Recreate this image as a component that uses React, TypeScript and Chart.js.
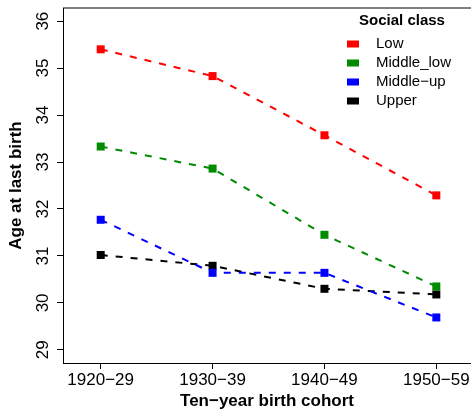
import React, { useEffect, useRef } from 'react';
import { Chart, registerables } from 'chart.js';

Chart.register(...registerables);

// ---- data ----
const cohorts = ['1920−29', '1930−39', '1940−49', '1950−59'];
const classNames = ['Low', 'Middle_low', 'Middle−up', 'Upper'];
const low = [35.4, 34.83, 33.57, 32.29];
const middleLow = [33.33, 32.86, 31.45, 30.35];
const middleUp = [31.77, 30.64, 30.64, 29.69];
const upper = [31.02, 30.79, 30.3, 30.18];
const yTicks = [29, 30, 31, 32, 33, 34, 35, 36];
const xTitle = 'Ten−year birth cohort';
const yTitle = 'Age at last birth';
const legendTitle = 'Social class';

const colors = ['#FF0000', '#008B00', '#0000FF', '#000000'];
const FONT = '"Liberation Sans", Arial, Helvetica, sans-serif';

const legendPlugin = {
  id: 'rLegend',
  afterDraw(chart: any) {
    const ctx = chart.ctx;
    const area = chart.chartArea;
    ctx.save();
    ctx.strokeStyle = '#000';
    ctx.lineWidth = 1;
    ctx.beginPath();
    ctx.moveTo(area.left, area.top);
    ctx.lineTo(area.right, area.top);
    ctx.stroke();
    ctx.fillStyle = '#000';
    ctx.font = `bold 15px ${FONT}`;
    ctx.textAlign = 'center';
    ctx.textBaseline = 'middle';
    ctx.fillText(legendTitle, 402, 21);
    ctx.font = `15px ${FONT}`;
    ctx.textAlign = 'left';
    chart.data.datasets.forEach((ds: any, i: number) => {
      const y = 44 + i * 19;
      ctx.fillStyle = ds.borderColor;
      ctx.fillRect(347, y - 3.5, 12, 7);
      ctx.fillStyle = '#000';
      ctx.fillText(ds.label, 376, y);
    });
    ctx.restore();
  },
};

export default function App() {
  const ref = useRef<HTMLCanvasElement | null>(null);
  useEffect(() => {
    document.body.style.margin = '0';
    const series = [low, middleLow, middleUp, upper];
    const chart = new Chart(ref.current as HTMLCanvasElement, {
      type: 'line',
      data: {
        datasets: series.map((s, i) => ({
          label: classNames[i],
          data: s.map((v, j) => ({ x: j, y: v })),
          borderColor: colors[i],
          backgroundColor: colors[i],
          borderWidth: 2,
          borderDash: [7, 8],
          pointStyle: 'rect',
          pointRadius: 5.66,
          pointBorderWidth: 0,
          pointBackgroundColor: colors[i],
          tension: 0,
          fill: false,
        })),
      },
      options: {
        responsive: false,
        animation: false,
        devicePixelRatio: 1,
        layout: { autoPadding: false, padding: { top: 8, right: 0, left: 0, bottom: 0 } },
        plugins: { legend: { display: false }, tooltip: { enabled: false } },
        scales: {
          x: {
            type: 'linear',
            min: -0.337,
            max: 3.31,
            afterBuildTicks: (scale: any) => {
              scale.ticks = cohorts.map((_, i) => ({ value: i }));
            },
            afterFit: (scale: any) => {
              scale.height = 46;
              scale.paddingLeft = 0;
              scale.paddingRight = 0;
            },
            ticks: {
              callback: (v: any) => cohorts[v] ?? '',
              color: '#000',
              font: { family: FONT, size: 17 },
              padding: 1,
              maxRotation: 0,
              autoSkip: false,
            },
            grid: { drawOnChartArea: false, drawTicks: true, tickLength: 6, tickColor: '#000', tickWidth: 1 },
            border: { display: true, color: '#000', width: 1 },
            title: {
              display: true,
              text: xTitle,
              color: '#000',
              font: { family: FONT, size: 17, weight: 'bold' },
              padding: { top: 0, bottom: -3 },
            },
          },
          y: {
            type: 'linear',
            min: 28.72,
            max: 36.28,
            afterBuildTicks: (scale: any) => {
              scale.ticks = yTicks.map((v) => ({ value: v }));
            },
            afterFit: (scale: any) => {
              scale.width = 63;
              scale.paddingTop = 0;
              scale.paddingBottom = 0;
            },
            ticks: {
              color: '#000',
              font: { family: FONT, size: 17 },
              minRotation: 90,
              maxRotation: 90,
              crossAlign: 'center',
              padding: 4,
              autoSkip: false,
            },
            grid: { drawOnChartArea: false, drawTicks: true, tickLength: 6, tickColor: '#000', tickWidth: 1 },
            border: { display: true, color: '#000', width: 1 },
            title: {
              display: true,
              text: yTitle,
              color: '#000',
              font: { family: FONT, size: 17, weight: 'bold' },
              padding: { top: 6, bottom: 0 },
            },
          },
        },
      },
      plugins: [legendPlugin],
    } as any);
    return () => chart.destroy();
  }, []);
  return (
    <div style={{ position: 'fixed', left: 0, top: 0, width: 471, height: 409, overflow: 'hidden', background: '#fff' }}>
      <canvas ref={ref} width={471} height={409} style={{ width: 471, height: 409, display: 'block' }} />
    </div>
  );
}
